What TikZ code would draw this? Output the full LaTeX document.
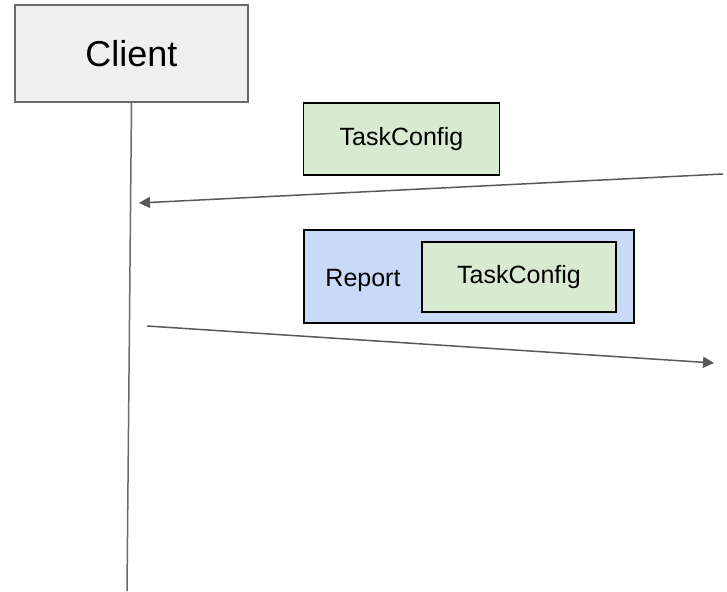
\documentclass[tikz,border=0pt]{standalone}
\usepackage{fontspec}
\setmainfont{Liberation Sans}
\usetikzlibrary{arrows.meta,positioning}

\definecolor{clientfill}{HTML}{EFEFEF}
\definecolor{configfill}{HTML}{D9EAD3}
\definecolor{reportfill}{HTML}{C9DAF8}
\definecolor{wire}{HTML}{595959}

\tikzset{
  actorbox/.style={draw=wire!90, fill=clientfill, line width=1.6pt, minimum width=233pt, minimum height=97pt, inner sep=0pt, font=\fontsize{36}{40}\selectfont},
  msgbox/.style={draw=black, line width=1.2pt, inner sep=0pt, font=\fontsize{25}{29}\selectfont},
  msg/.style={draw=wire, line width=1.5pt, -{Triangle[length=11pt,width=11pt]}}
}

\begin{document}
\begin{tikzpicture}[x=1pt, y=-1pt]
      \useasboundingbox (0, 0) rectangle (727, 591);

      % client and its lifeline
      \node[actorbox] (client) at (131.5, 53.5) {Client};
      \coordinate (lifeend) at (127, 591);
      \draw[draw=wire!90, line width=1.5pt] (client.south) -- (lifeend);

      % first message: task configuration
      \node[msgbox, fill=configfill, minimum width=196pt, minimum height=72pt] (config) at (401.5, 139) {TaskConfig};
      \coordinate (inright) at (723, 174);
      \coordinate (inleft) at (139, 203);
      \draw[msg] (inright) -- (inleft);

      % second message: report wrapping the configuration
      \node[msgbox, fill=reportfill, minimum width=330pt, minimum height=93pt] (report) at (469, 276.5) {};
      \node[msgbox, fill=configfill, minimum width=194pt, minimum height=70pt] (reportconfig) at (519, 277) {TaskConfig};
      \node[font=\fontsize{25}{29}\selectfont] (reportlabel) at (363, 280) {Report};
      \coordinate (outleft) at (147, 326);
      \coordinate (outright) at (714, 363);
      \draw[msg] (outleft) -- (outright);
\end{tikzpicture}
\end{document}
